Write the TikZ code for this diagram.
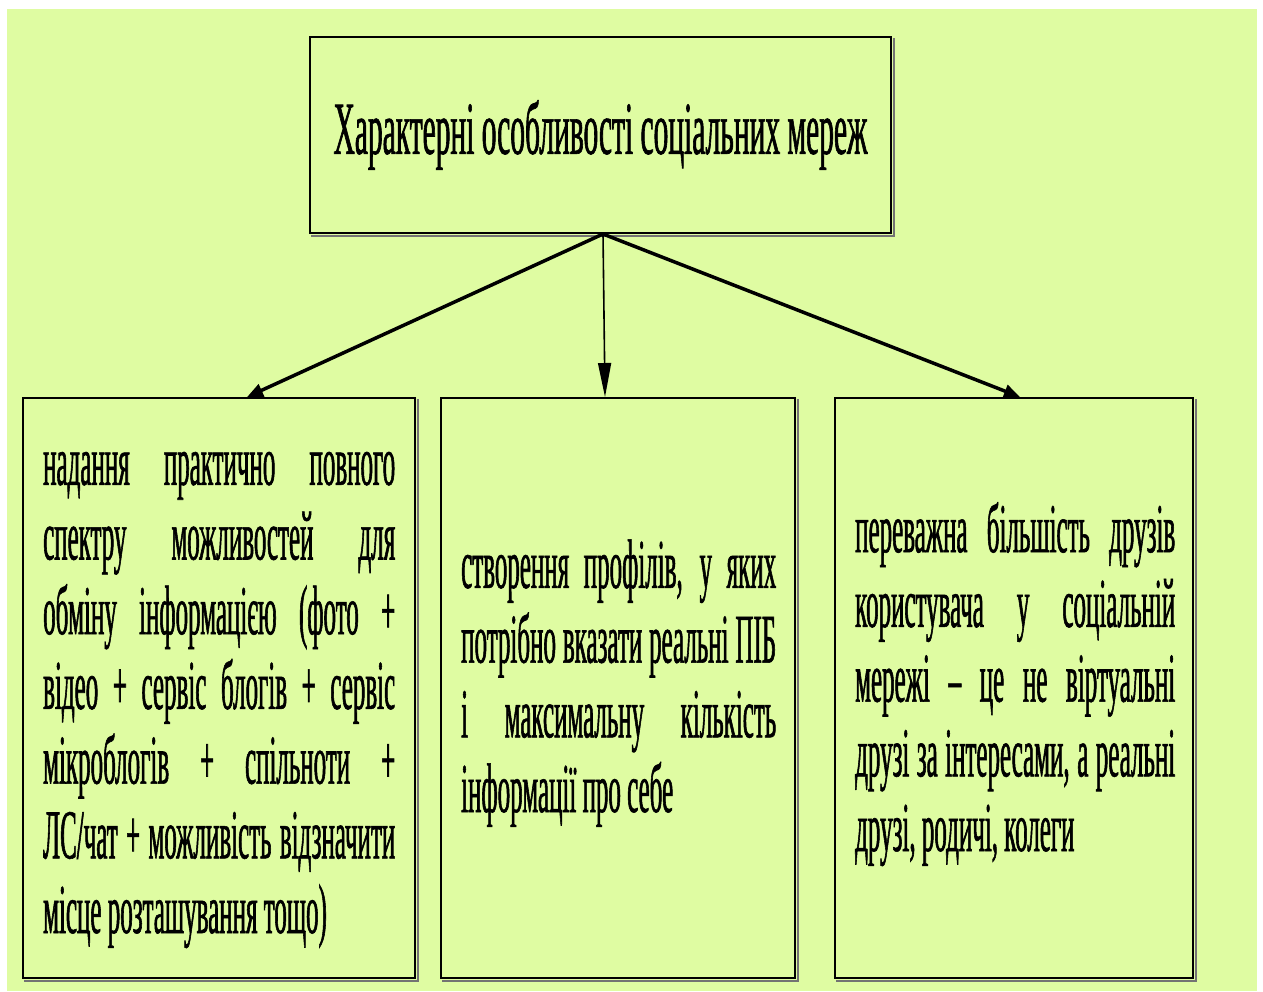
\documentclass[tikz,border=0pt]{standalone}
\usepackage{fontspec}
\setmainfont{Liberation Serif}
\newfontfamily\ttlfont[FakeStretch=0.393,FakeBold=0.8]{Liberation Serif}
\newfontfamily\bdyfont[FakeStretch=0.357,FakeBold=0.8]{Liberation Serif}
\usetikzlibrary{arrows.meta}
\definecolor{bg}{RGB}{223,252,162}
\newcommand{\jl}[2]{\makebox[#1][s]{#2}}
\begin{document}
\begin{tikzpicture}[x=1pt,y=-1pt,
  boxstyle/.style={draw=black, line width=2pt, fill=bg, inner sep=0pt, anchor=center},
  bodytext/.style={font=\bdyfont\fontsize{70}{74.7}\selectfont, align=left, inner sep=0pt, anchor=base west},
  shadowline/.style={line width=1.4pt, black!55},
  thickarrow/.style={line width=3.5pt, -{Triangle[length=16pt,width=13pt]}},
  thinarrow/.style={line width=1.6pt, -{Triangle[length=34pt,width=13pt]}}]
\useasboundingbox (0,0) rectangle (1263,991);
\fill[white] (0,0) rectangle (1263,991);
\fill[bg] (7,9) rectangle (1257,991);
% title
\node[boxstyle, minimum width=581pt, minimum height=196pt,
      font=\ttlfont\fontsize{75}{80}\selectfont] (t) at (600.5,135)
      {Характерні особливості соціальних мереж};
% boxes
\node[boxstyle, minimum width=392pt, minimum height=580pt] (l) at (219,688) {};
\node[boxstyle, minimum width=354pt, minimum height=580pt] (m) at (618,688) {};
\node[boxstyle, minimum width=358pt, minimum height=580pt] (r) at (1014,688) {};
% texts (anchored at the baseline of their last line)
\node[bodytext] (lt) at (43,933)
 {\jl{352pt}{надання практично повного}\\
  \jl{352pt}{спектру можливостей для}\\
  \jl{352pt}{обміну інформацією (фото +}\\
  \jl{352pt}{відео + сервіс блогів + сервіс}\\
  \jl{352pt}{мікроблогів + спільноти +}\\
  \jl{352pt}{ЛС/чат + можливість відзначити}\\
  місце розташування тощо)};
\node[bodytext] (mt) at (461,812)
 {\jl{315pt}{створення профілів, у яких}\\
  \jl{315pt}{потрібно вказати реальні ПІБ}\\
  \jl{315pt}{і максимальну кількість}\\
  інформації про себе};
\node[bodytext] (rt) at (855,851)
 {\jl{320pt}{переважна більшість друзів}\\
  \jl{320pt}{користувача у соціальній}\\
  \jl{320pt}{мережі – це не віртуальні}\\
  \jl{320pt}{друзі за інтересами, а реальні}\\
  друзі, родичі, колеги};
% shadows
\foreach \b in {t,l,m,r}{
  \draw[shadowline] ([shift={(2,2)}]\b.south west) -- ([shift={(2,2)}]\b.south east) -- ([shift={(2,2)}]\b.north east);
}
% arrows
\draw[thickarrow] ([xshift=2.5pt]t.south) -- ([xshift=28pt]l.north);
\draw[thinarrow] ([xshift=2.5pt]t.south) -- ([xshift=-13pt]m.north);
\draw[thickarrow] ([xshift=2.5pt]t.south) -- ([xshift=6pt]r.north);
\end{tikzpicture}
\end{document}
